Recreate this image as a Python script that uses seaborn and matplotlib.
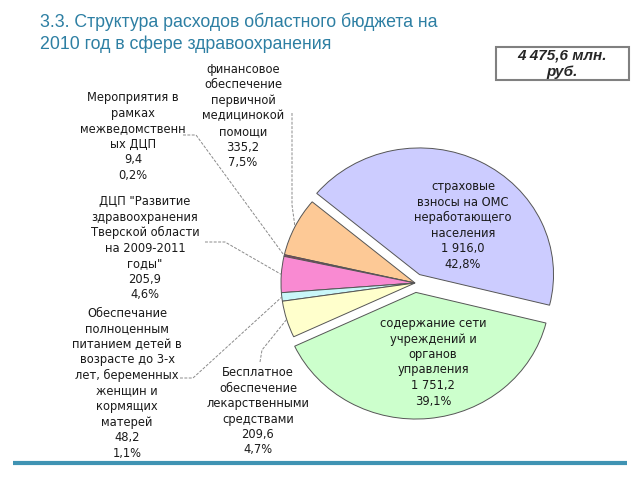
import numpy as np
import matplotlib
matplotlib.use("Agg")
import matplotlib.pyplot as plt
import seaborn as sns

# ---------------------------------------------------------
# Data: regional health budget 2010, mln rub.
# ---------------------------------------------------------
names = [
    "страховые\nвзносы на ОМС\nнеработающего\nнаселения",
    "финансовое\nобеспечение\nпервичной\nмедицинокой\nпомощи",
    "Мероприятия в\nрамках\nмежведомственн\nых ДЦП",
    "ДЦП \"Развитие\nздравоохранения\nТверской области\nна 2009-2011\nгоды\"",
    "Обеспечание\nполноценным\nпитанием детей в\nвозрасте до 3-х\nлет, беременных\nженщин и\nкормящих\nматерей",
    "Бесплатное\nобеспечение\nлекарственными\nсредствами",
    "содержание сети\nучреждений и\nорганов\nуправления",
]
values = [1916.0, 335.2, 9.4, 205.9, 48.2, 209.6, 1751.2]
colors = ["#ccccff", "#fdc996", "#a3345a", "#f98ad2", "#c9f7f9", "#ffffcc", "#ccffcc"]
exploded = [True, False, False, False, False, False, True]

title = "3.3. Структура расходов областного бюджета на\n2010 год в сфере здравоохранения"
total_label = "4 475,6 млн.\nруб."

total = sum(values)
shares = [v / total * 100 for v in values]


def fmt_num(v):
    return f"{v:,.1f}".replace(",", " ").replace(".", ",")


def fmt_pct(p):
    return f"{p:.1f}".replace(".", ",") + "%"


sns.set_style("white")
plt.rcParams["font.family"] = ["DejaVu Sans"]

W, H = 640, 480
fig = plt.figure(figsize=(6.4, 4.8), dpi=100)

# overlay axes in image pixels (y down) for text and leader lines
ax = fig.add_axes([0, 0, 1, 1])
ax.set_xlim(0, W)
ax.set_ylim(H, 0)
ax.axis("off")

# pie axes: slightly squashed vertically like the original slide
cx, cy, r, squash = 415, 283, 134, 0.945
pax = fig.add_axes([0, 0, 1, 1], zorder=0)
wedges, _ = pax.pie(
    values,
    colors=colors,
    startangle=-14,
    counterclock=True,
    radius=r,
    explode=[10 if e else 0 for e in exploded],
    wedgeprops=dict(edgecolor="#555555", linewidth=0.7),
)
pax.set_aspect("auto")
pax.set_xlim(-cx, W - cx)
pax.set_ylim(-(H - cy) / squash, cy / squash)
pax.axis("off")
ax.set_zorder(1)

to_img = pax.transData + ax.transData.inverted()

lab_kw = dict(ha="center", va="top", fontsize=8.3, color="#1a1a1a", linespacing=1.25)

# labels inside the two big slices
inside = {0: (463, 180), 6: (433, 317)}
for i, (x, y) in inside.items():
    ax.text(x, y, f"{names[i]}\n{fmt_num(values[i])}\n{fmt_pct(shares[i])}", **lab_kw)

# outside labels: text position (top centre), elbow path from text to slice
outside = {
    1: ((243, 63), [(292, 113), (292, 205)]),
    2: ((133, 91), [(183, 135), (196, 135)]),
    3: ((145, 195), [(205, 242), (225, 242)]),
    4: ((127, 307), [(180, 378), (193, 378)]),
    5: ((258, 366), [(260, 362), (262, 350)]),
}
for i, ((tx, ty), path) in outside.items():
    ax.text(tx, ty, f"{names[i]}\n{fmt_num(values[i])}\n{fmt_pct(shares[i])}", **lab_kw)
    w = wedges[i]
    mid = np.deg2rad((w.theta1 + w.theta2) / 2)
    anchor = to_img.transform((w.center[0] + w.r * np.cos(mid), w.center[1] + w.r * np.sin(mid)))
    xs = [p[0] for p in path] + [anchor[0]]
    ys = [p[1] for p in path] + [anchor[1]]
    ax.plot(xs, ys, color="#8a8a8a", linewidth=0.7, linestyle=(0, (3, 1.5)))

# title
ax.text(40, 13, title, ha="left", va="top", fontsize=12.8,
        color="#2d7fa3", family=["Liberation Sans", "DejaVu Sans"], linespacing=1.32)

# total box
ax.add_patch(plt.Rectangle((496, 47), 133, 33, facecolor="white",
                           edgecolor="#808080", linewidth=1.5))
ax.text(562, 64, total_label, ha="center", va="center", fontsize=11,
        fontweight="bold", fontstyle="italic", family=["Liberation Sans", "DejaVu Sans"],
        linespacing=1.2)

# bottom rule
ax.plot([13, 627], [463, 463], color="#3f93b3", linewidth=3, solid_capstyle="butt")

fig.savefig("out.png", dpi=100)
